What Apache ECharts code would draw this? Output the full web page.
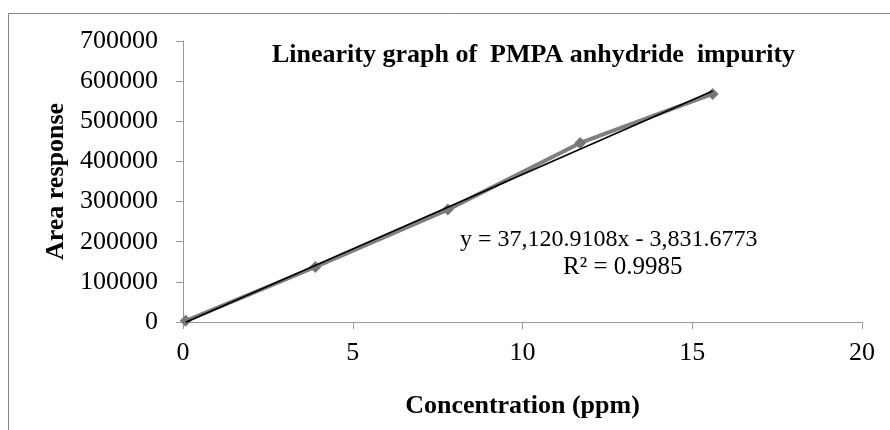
<!DOCTYPE html>
<html>
<head>
<meta charset="utf-8">
<script src="https://cdn.jsdelivr.net/npm/echarts@6/dist/echarts.min.js"></script>
<style>
    html, body { margin: 0; padding: 0; background: #fff; }
    #linearity { width: 890px; height: 430px; }
</style>
</head>
<body>
<div id="linearity"></div>
<script>
// measured points (ppm, area)
var conc_ppm = [0.08, 3.9, 7.8, 11.7, 15.6];
var area_response = [3000, 137000, 280000, 446000, 568000];

// linear trendline end points (from the equation printed on the chart)
var trend_x = [0.08, 15.6];
var trend_y = [-862, 575254];

var x_ticks = [0, 5, 10, 15, 20];
var y_ticks = [0, 100000, 200000, 300000, 400000, 500000, 600000, 700000];

var eq_text = "y = 37,120.9108x - 3,831.6773";
var r2_text = "R\u00b2 = 0.9985";

var serif = "Liberation Serif";

function loadLinearityChart() {
    var linearity = document.getElementById("linearity");
    var myChart_linearity = echarts.init(linearity);

    var points = conc_ppm.map(function (x, i) { return [x, area_response[i]]; });
    var trend = trend_x.map(function (x, i) { return [x, trend_y[i]]; });

    var option_linearity = {
        animation: false,
        backgroundColor: "#fff",
        title: {
            text: "Linearity graph of  PMPA anhydride  impurity",
            left: 267,
            top: 37,
            textStyle: {
                fontFamily: serif,
                fontWeight: "bold",
                fontSize: 26,
                color: "#000"
            }
        },
        grid: {
            left: 183,
            right: 28,
            top: 41,
            bottom: 108
        },
        xAxis: {
            type: "value",
            min: x_ticks[0],
            max: x_ticks[x_ticks.length - 1],
            interval: 5,
            name: "Concentration (ppm)",
            nameLocation: "middle",
            nameGap: 71,
            nameTextStyle: {
                fontFamily: serif,
                fontWeight: "bold",
                fontSize: 26,
                color: "#000"
            },
            axisLine: { lineStyle: { color: "#999", width: 1 } },
            axisTick: { show: true, length: 7, lineStyle: { color: "#999" } },
            axisLabel: {
                margin: 18,
                fontFamily: serif,
                fontSize: 26,
                color: "#000"
            },
            splitLine: { show: false }
        },
        yAxis: {
            type: "value",
            min: y_ticks[0],
            max: y_ticks[y_ticks.length - 1],
            interval: 100000,
            name: "Area response",
            nameLocation: "middle",
            nameGap: 113,
            nameRotate: 90,
            nameTextStyle: {
                fontFamily: serif,
                fontWeight: "bold",
                fontSize: 26,
                color: "#000"
            },
            axisLine: { show: true, lineStyle: { color: "#999", width: 1 } },
            axisTick: { show: true, length: 7, lineStyle: { color: "#999" } },
            axisLabel: {
                margin: 25,
                fontFamily: serif,
                fontSize: 26,
                color: "#000",
                formatter: function (v) { return String(v); }
            },
            splitLine: { show: false }
        },
        graphic: [
            {
                type: "rect",
                shape: { x: 8.5, y: 13.5, width: 900, height: 440 },
                style: { fill: "none", stroke: "#888", lineWidth: 1 },
                silent: true
            },
            {
                type: "text",
                left: 460,
                top: 228,
                style: {
                    text: eq_text,
                    font: "24px " + serif,
                    fill: "#000"
                }
            },
            {
                type: "text",
                left: 563,
                top: 255,
                style: {
                    text: r2_text,
                    font: "25px " + serif,
                    fill: "#000"
                }
            }
        ],
        series: [
            {
                type: "line",
                data: points,
                symbol: "diamond",
                symbolSize: 12,
                lineStyle: { color: "#7f7f7f", width: 4 },
                itemStyle: { color: "#777" },
                z: 2
            },
            {
                type: "line",
                data: trend,
                symbol: "none",
                lineStyle: { color: "#000", width: 1.6 },
                z: 3
            }
        ]
    };

    myChart_linearity.setOption(option_linearity);
}

loadLinearityChart();
</script>
</body>
</html>
